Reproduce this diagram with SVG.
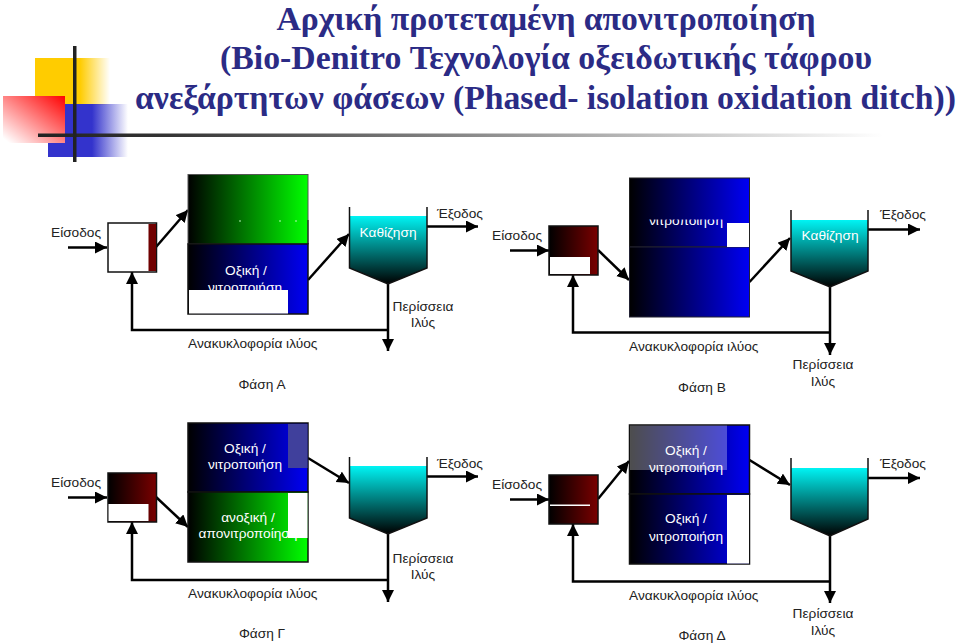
<svg xmlns="http://www.w3.org/2000/svg" width="959" height="644" viewBox="0 0 959 644">
<style>
text{font-family:"Liberation Sans",Arial,sans-serif;font-size:13.7px;fill:#222}
.t{font-family:"Liberation Serif","Times New Roman",serif;font-size:33.500px;font-weight:bold;fill:#2b2b85;text-anchor:middle}
.c{text-anchor:middle}
.w{fill:#fff;text-anchor:middle}
.ln{fill:none;stroke:#000;stroke-width:2.500}
.a{marker-end:url(#ah)}
.o{stroke:#111;stroke-width:1.500}
.wall{fill:none;stroke:#111;stroke-width:1.500}
.wr{fill:#fff}
</style>
<defs>
<marker id="ah" markerUnits="userSpaceOnUse" markerWidth="14" markerHeight="14" refX="12" refY="6" orient="auto"><path d="M0 0L12 6L0 12Z" fill="#000"/></marker>
<linearGradient id="gG"><stop offset="0" stop-color="#000"/><stop offset="1" stop-color="#00ff00"/></linearGradient>
<linearGradient id="gB"><stop offset="0" stop-color="#000"/><stop offset="1" stop-color="#0000f4"/></linearGradient>
<linearGradient id="gR"><stop offset="0" stop-color="#000"/><stop offset="1" stop-color="#7a0000"/></linearGradient>
<linearGradient id="gC" x1="0" y1="0" x2="0" y2="1"><stop offset="0" stop-color="#00f4f4"/><stop offset="1" stop-color="#000"/></linearGradient>
<linearGradient id="fY"><stop offset="0" stop-color="#ffcc00"/><stop offset=".6" stop-color="#ffcc00"/><stop offset="1" stop-color="#ffcc00" stop-opacity="0"/></linearGradient>
<linearGradient id="fBl"><stop offset="0" stop-color="#3333cc"/><stop offset=".55" stop-color="#3333cc"/><stop offset="1" stop-color="#3333cc" stop-opacity="0"/></linearGradient>
<linearGradient id="fR" x1="1" y1="0" x2="0" y2="1"><stop offset="0" stop-color="#ff0000"/><stop offset=".95" stop-color="#ff0000" stop-opacity="0"/></linearGradient>
<linearGradient id="fK"><stop offset="0" stop-color="#222"/><stop offset=".15" stop-color="#333"/><stop offset="1" stop-color="#333" stop-opacity="0"/></linearGradient>
<clipPath id="cb"><rect x="630" y="219.500" width="120" height="30"/></clipPath>
</defs>
<rect width="959" height="644" fill="#fff"/>
<g id="logo">
<rect x="35" y="58" width="75" height="47" fill="url(#fY)"/>
<rect x="48" y="104" width="80" height="53" fill="url(#fBl)"/>
<rect x="3" y="96" width="62" height="47" fill="#fff"/>
<rect x="3" y="96" width="62" height="47" fill="url(#fR)"/>
<rect x="38" y="133.500" width="845" height="3.500" fill="url(#fK)"/>
<rect x="73" y="46" width="3.500" height="116" fill="#222"/>
</g>
<g id="title">
<text class="t" x="546" y="30" textLength="539" lengthAdjust="spacingAndGlyphs">Αρχική προτεταμένη απονιτροποίηση</text>
<text class="t" x="546" y="69" textLength="652" lengthAdjust="spacingAndGlyphs">(Bio-Denitro Τεχνολογία οξειδωτικής τάφρου</text>
<text class="t" x="545.500" y="109" textLength="821" lengthAdjust="spacingAndGlyphs">ανεξάρτητων φάσεων (Phased- isolation oxidation ditch))</text>
</g>
<g id="connectors">
<path class="ln a" d="M68 247.500H107"/><path class="ln a" d="M156 247L188 210"/><path class="ln a" d="M308 280L349 234"/><path class="ln a" d="M427 226.500H478"/><path class="ln a" d="M388 284V351"/><path class="ln a" d="M388 330H132V272"/>
<path class="ln a" d="M510 250.500H549"/><path class="ln a" d="M598 250L629 280"/><path class="ln a" d="M749.500 282L790 238"/><path class="ln a" d="M868 229.500H920"/><path class="ln a" d="M830 287V355"/><path class="ln a" d="M830 332.500H573V275"/>
<path class="ln a" d="M68 497.500H107"/><path class="ln a" d="M156 497L188 527"/><path class="ln a" d="M308 458L349 483"/><path class="ln a" d="M427 476.500H478"/><path class="ln a" d="M388 534V602"/><path class="ln a" d="M388 580H132V522"/>
<path class="ln a" d="M510 499.500H549"/><path class="ln a" d="M598 499L629 461"/><path class="ln a" d="M749.500 460L790 485"/><path class="ln a" d="M868 478H920"/><path class="ln a" d="M830 536V603"/><path class="ln a" d="M830 581.500H573V524"/>
</g>
<g id="phase-a">
<text x="51" y="237">Είσοδος</text>
<g id="a-inlet"><rect class="o" x="108" y="223" width="48.500" height="49" fill="#fff"/><rect x="148.500" y="224" width="7.500" height="47" fill="#700000"/></g>
<g id="a-reactor">
<rect x="188" y="174.500" width="120" height="69.500" fill="url(#gG)" stroke="#555" stroke-width="1"/>
<circle cx="240" cy="221" r=".8" fill="#cfc"/><circle cx="280" cy="221" r=".8" fill="#cfc"/><circle cx="296" cy="221" r=".8" fill="#cfc"/>
<path d="M308 220V244" stroke="#111" stroke-width="1" fill="none"/>
<rect class="o" x="188" y="244" width="120" height="70" fill="url(#gB)"/>
<text class="w" x="246" y="275">Οξική /</text><text class="w" x="245" y="292">νιτροποιήση</text>
<rect class="wr" x="189" y="290" width="99" height="23.500"/>
</g>
<g id="a-settler"><path d="M350 216H427V268L388 284L350 268Z" fill="url(#gC)"/><path class="wall" d="M349.500 207V268L388 284L427 268V207"/><text class="w" x="388" y="237">Καθίζηση</text></g>
<text x="437" y="218">Έξοδος</text>
<text class="c" x="423" y="311">Περίσσεια</text><text class="c" x="423" y="327">Ιλύς</text>
<text x="188" y="348">Ανακυκλοφορία ιλύος</text>
<text class="c" x="262" y="389">Φάση Α</text>
</g>
<g id="phase-b">
<text x="492" y="240">Είσοδος</text>
<g id="b-inlet"><rect class="o" x="549" y="226" width="49" height="49" fill="url(#gR)"/><rect class="wr" x="550" y="257" width="40" height="17"/></g>
<g id="b-reactor">
<rect x="629.500" y="178" width="120" height="69" fill="url(#gB)" stroke="#222" stroke-width="1"/>
<rect x="629.500" y="247" width="120" height="70" fill="url(#gB)" stroke="#223" stroke-width="1"/>
<g clip-path="url(#cb)"><text class="w" x="686" y="225">νιτροποιήση</text></g>
<rect class="wr" x="727" y="223" width="22" height="24"/>
</g>
<g id="b-settler"><path d="M791 220H868V271L830 287L791 271Z" fill="url(#gC)"/><path class="wall" d="M791 210V271L830 287L868 271V210"/><text class="w" x="830" y="240">Καθίζηση</text></g>
<text x="880" y="219">Έξοδος</text>
<text class="c" x="823" y="369">Περίσσεια</text><text class="c" x="823" y="386">Ιλύς</text>
<text x="629" y="351">Ανακυκλοφορία ιλύος</text>
<text class="c" x="702" y="392">Φάση Β</text>
</g>
<g id="phase-c">
<text x="51" y="487">Είσοδος</text>
<g id="c-inlet"><rect class="o" x="108" y="473" width="48.500" height="49" fill="url(#gR)"/><rect class="wr" x="108.500" y="504" width="40" height="17"/></g>
<g id="c-reactor">
<rect class="o" x="188" y="423" width="120" height="69" fill="url(#gB)"/>
<rect x="288" y="424" width="19.500" height="44" fill="#40409c"/>
<rect class="o" x="188" y="492" width="120" height="70" fill="url(#gG)"/>
<text class="w" x="245" y="453">Οξική /</text><text class="w" x="245" y="469">νιτροποιήση</text>
<text class="w" x="248" y="522">ανοξική /</text><text class="w" x="248" y="538">απονιτροποίηση</text>
<rect class="wr" x="288" y="493" width="19.500" height="45"/>
</g>
<g id="c-settler"><path d="M350 466H427V518L388 534L350 518Z" fill="url(#gC)"/><path class="wall" d="M349.500 457V518L388 534L427 518V457"/></g>
<text x="437" y="468">Έξοδος</text>
<text class="c" x="423" y="563">Περίσσεια</text><text class="c" x="423" y="579">Ιλύς</text>
<text x="188" y="598">Ανακυκλοφορία ιλύος</text>
<text class="c" x="262" y="638">Φάση Γ</text>
</g>
<g id="phase-d">
<text x="492" y="489">Είσοδος</text>
<g id="d-inlet"><rect class="o" x="549" y="475" width="49" height="49" fill="url(#gR)"/><rect class="wr" x="550" y="504.500" width="40" height="1.500"/></g>
<g id="d-reactor">
<rect class="o" x="629.500" y="425" width="120" height="69" fill="url(#gB)"/>
<rect x="630" y="425.500" width="97" height="44.500" fill="#fff" fill-opacity=".3"/>
<rect class="o" x="629.500" y="494" width="120" height="70" fill="url(#gB)"/>
<rect class="wr" x="727" y="495" width="22" height="68.500"/>
<text class="w" x="686" y="455">Οξική /</text><text class="w" x="686" y="472">νιτροποιήση</text>
<text class="w" x="686" y="523">Οξική /</text><text class="w" x="686" y="541">νιτροποιήση</text>
</g>
<g id="d-settler"><path d="M791 468H868V519L830 536L791 519Z" fill="url(#gC)"/><path class="wall" d="M791 458V519L830 536L868 519V458"/></g>
<text x="880" y="468">Έξοδος</text>
<text class="c" x="823" y="618">Περίσσεια</text><text class="c" x="823" y="635">Ιλύς</text>
<text x="629" y="600">Ανακυκλοφορία ιλύος</text>
<text class="c" x="702" y="640">Φάση Δ</text>
</g>
</svg>
